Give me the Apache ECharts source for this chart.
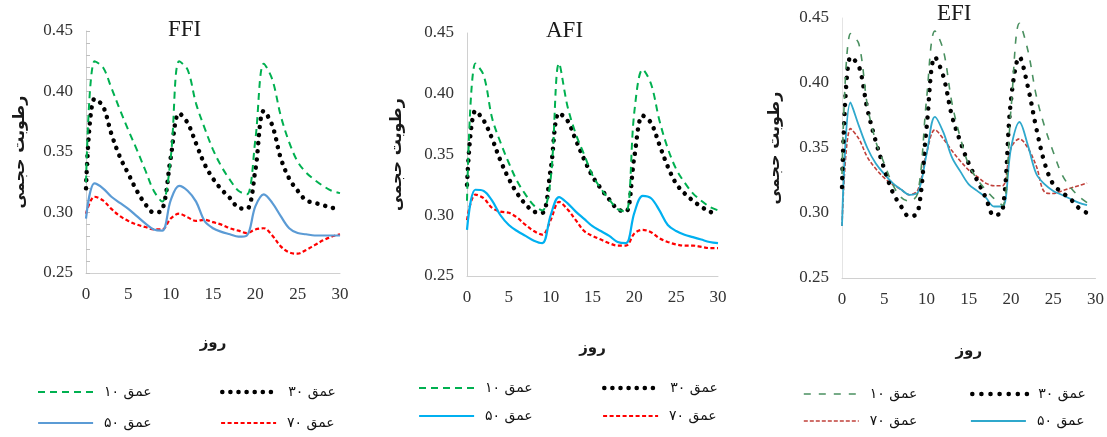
<!DOCTYPE html>
<html>
<head>
<meta charset="utf-8">
<script src="https://cdn.jsdelivr.net/npm/echarts@6/dist/echarts.min.js"></script>
<style>html,body{margin:0;padding:0;background:#fff}#c{width:1107px;height:437px}</style>
</head>
<body>
<div id="c"></div>
<script>
// ---- data ----
const days = [0,1,2,3,4,5,6,7,8,9,10,11,12,13,14,15,16,17,18,19,20,21,22,23,24,25,26,27,28,29,30];
const days3 = [0,1,2,3,4,5,6,7,8,9,10,11,12,13,14,15,16,17,18,19,20,21,22,23,24,25,26,27,28,29];
const panelTitles = ['FFI', 'AFI', 'EFI'];
const seriesNames = ['عمق ۱۰', 'عمق ۳۰', 'عمق ۵۰', 'عمق ۷۰'];
const yTicks = [0.25, 0.30, 0.35, 0.40, 0.45];
const xTicks = [0, 5, 10, 15, 20, 25, 30];
const xAxisName = 'روز';
const yAxisName = 'رطوبت حجمی';

const ffi10 = [0.325,0.425,0.420,0.403,0.385,0.368,0.352,0.335,0.318,0.309,0.345,0.425,0.418,0.390,0.370,0.352,0.338,0.327,0.318,0.315,0.360,0.423,0.410,0.380,0.358,0.342,0.333,0.327,0.322,0.318,0.316];
const ffi30 = [0.320,0.394,0.388,0.365,0.346,0.332,0.318,0.307,0.300,0.302,0.345,0.382,0.374,0.357,0.340,0.328,0.319,0.312,0.304,0.303,0.335,0.384,0.372,0.345,0.328,0.318,0.310,0.308,0.306,0.304,0.303];
const ffi50 = [0.295,0.324,0.320,0.313,0.308,0.303,0.297,0.291,0.286,0.285,0.310,0.322,0.318,0.309,0.293,0.287,0.284,0.282,0.280,0.281,0.305,0.315,0.308,0.297,0.287,0.283,0.282,0.281,0.281,0.281,0.281];
const ffi70 = [0.299,0.313,0.310,0.303,0.297,0.293,0.290,0.288,0.286,0.286,0.295,0.299,0.296,0.293,0.294,0.292,0.290,0.287,0.285,0.283,0.286,0.287,0.281,0.272,0.267,0.266,0.269,0.273,0.277,0.280,0.282];

const afi10 = [0.312,0.425,0.415,0.380,0.360,0.343,0.328,0.317,0.308,0.304,0.330,0.425,0.390,0.367,0.350,0.333,0.322,0.313,0.305,0.303,0.385,0.420,0.408,0.378,0.355,0.338,0.327,0.318,0.312,0.307,0.304];
const afi30 = [0.325,0.386,0.378,0.363,0.345,0.330,0.318,0.309,0.303,0.302,0.338,0.384,0.378,0.362,0.346,0.332,0.322,0.313,0.305,0.303,0.348,0.382,0.376,0.358,0.340,0.326,0.318,0.312,0.307,0.303,0.301];
const afi50 = [0.288,0.321,0.320,0.312,0.300,0.292,0.287,0.283,0.279,0.277,0.300,0.315,0.310,0.303,0.297,0.291,0.287,0.283,0.278,0.277,0.302,0.316,0.314,0.304,0.292,0.287,0.284,0.282,0.280,0.278,0.277];
const afi70 = [0.296,0.317,0.314,0.306,0.303,0.302,0.298,0.292,0.287,0.284,0.296,0.311,0.305,0.296,0.287,0.283,0.280,0.277,0.275,0.275,0.285,0.288,0.286,0.281,0.278,0.276,0.275,0.275,0.274,0.273,0.273];

const efi10 = [0.330,0.438,0.430,0.383,0.355,0.338,0.322,0.312,0.309,0.316,0.387,0.440,0.425,0.385,0.358,0.337,0.326,0.318,0.311,0.306,0.380,0.446,0.425,0.390,0.366,0.347,0.330,0.320,0.313,0.308];
const efi30 = [0.320,0.420,0.413,0.380,0.355,0.334,0.316,0.305,0.297,0.301,0.365,0.420,0.405,0.375,0.355,0.338,0.325,0.312,0.298,0.302,0.387,0.420,0.397,0.365,0.338,0.322,0.316,0.311,0.304,0.300];
const efi50 = [0.290,0.385,0.367,0.350,0.338,0.330,0.323,0.318,0.314,0.316,0.345,0.374,0.362,0.343,0.332,0.322,0.317,0.312,0.305,0.305,0.350,0.370,0.352,0.330,0.322,0.317,0.314,0.311,0.308,0.306];
const efi70 = [0.290,0.365,0.357,0.343,0.334,0.327,0.322,0.318,0.314,0.318,0.346,0.364,0.357,0.348,0.340,0.333,0.328,0.323,0.321,0.321,0.350,0.357,0.350,0.336,0.316,0.315,0.317,0.319,0.321,0.323];

// ---- layout / style ----
const grids = [
  {left: 86, top: 31, width: 254, height: 242},
  {left: 467, top: 33, width: 251, height: 243},
  {left: 842, top: 18, width: 255, height: 260}
];
const titlePos = [{x: 163, y: 13}, {x: 541, y: 14}, {x: 932, y: -3}];
const yNameGap = [58, 62, 59];
const xNameGap = [63, 65, 66];

const styles = [
  [
    {color: '#00b050', width: 2, type: [7, 5]},
    {color: '#000000', width: 4.5, type: [0.1, 8], cap: 'round'},
    {color: '#5b9bd5', width: 2.2, type: 'solid'},
    {color: '#ff0000', width: 2.2, type: [4, 2.5]}
  ],
  [
    {color: '#00b050', width: 2, type: [7, 5]},
    {color: '#000000', width: 4.5, type: [0.1, 8], cap: 'round'},
    {color: '#00b0f0', width: 2.2, type: 'solid'},
    {color: '#ff0000', width: 2.2, type: [4, 2.5]}
  ],
  [
    {color: '#4a9060', width: 1.6, type: [7, 8]},
    {color: '#000000', width: 4.5, type: [0.1, 9], cap: 'round'},
    {color: '#2fa8cc', width: 1.8, type: 'solid'},
    {color: '#c0403a', width: 1.6, type: [4, 2]}
  ]
];
const legendPos = [
  [{left: 32, top: 380}, {left: 215, top: 380}, {left: 32, top: 411}, {left: 215, top: 411}],
  [{left: 413, top: 376}, {left: 597, top: 376}, {left: 413, top: 404}, {left: 597, top: 404}],
  [{left: 798, top: 382}, {left: 965, top: 382}, {left: 965, top: 409}, {left: 798, top: 409}]
];

const panelData = [
  {x: days, ys: [ffi10, ffi30, ffi50, ffi70]},
  {x: days, ys: [afi10, afi30, afi50, afi70]},
  {x: days3, ys: [efi10, efi30, efi50, efi70]}
];

const serif = '"Liberation Serif", "Times New Roman", "DejaVu Serif", serif';
const arabicFont = '"DejaVu Sans", sans-serif';

const option = {
  backgroundColor: '#ffffff',
  animation: false,
  title: [], grid: [], xAxis: [], yAxis: [], series: [], legend: []
};

panelData.forEach((p, i) => {
  option.title.push({
    text: panelTitles[i], left: titlePos[i].x, top: titlePos[i].y,
    textStyle: {fontFamily: serif, fontSize: 23, fontWeight: 'normal', color: '#1a1a1a'}
  });
  option.grid.push(Object.assign({containLabel: false}, grids[i]));
  option.xAxis.push({
    type: 'value', gridIndex: i, min: xTicks[0], max: xTicks[xTicks.length - 1], interval: 5,
    name: xAxisName, nameLocation: 'middle', nameGap: xNameGap[i],
    nameTextStyle: {fontFamily: arabicFont, fontSize: 15, fontWeight: 'bold', color: '#1a1a1a'},
    axisLine: {show: true, lineStyle: {color: '#d0d0d0', width: 1}},
    axisTick: {show: false},
    splitLine: {show: false},
    axisLabel: {fontFamily: serif, fontSize: 17, color: '#333', margin: 13}
  });
  option.yAxis.push({
    type: 'value', gridIndex: i, min: yTicks[0], max: yTicks[yTicks.length - 1], interval: 0.05,
    name: yAxisName, nameLocation: 'middle', nameGap: yNameGap[i], nameRotate: 90,
    nameTextStyle: {fontFamily: arabicFont, fontSize: 16, fontWeight: 'bold', color: '#1a1a1a'},
    axisLine: {show: true, lineStyle: {color: i === 2 ? '#e4e4e4' : '#d0d0d0', width: 1}},
    axisTick: {show: i === 0, inside: true, length: 4, lineStyle: {color: '#bfbfbf'}},
    minorTick: {show: i === 0, splitNumber: 5, length: 4, lineStyle: {color: '#bfbfbf'}},
    splitLine: {show: false},
    axisLabel: {fontFamily: serif, fontSize: 17, color: '#333', margin: 13,
      formatter: v => v.toFixed(2)}
  });
  p.ys.forEach((ys, j) => {
    const st = styles[i][j];
    option.series.push({
      type: 'line', name: seriesNames[j], xAxisIndex: i, yAxisIndex: i,
      data: p.x.map((d, k) => [d, ys[k]]),
      smooth: 0.35, showSymbol: false, symbol: 'none',
      lineStyle: {color: st.color, width: st.width, type: st.type, cap: st.cap || 'butt'},
      itemStyle: {color: st.color},
      z: 4 - j
    });
    option.legend.push({
      show: true,
      left: legendPos[i][j].left, top: legendPos[i][j].top,
      itemWidth: 55, itemHeight: 14, selectedMode: false,
      textStyle: {fontFamily: arabicFont, fontSize: 14, color: '#111', padding: [0, 0, 0, 6]},
      data: [{
        name: seriesNames[j],
        itemStyle: {color: 'rgba(0,0,0,0)', borderColor: 'rgba(0,0,0,0)', borderWidth: 0, opacity: 0},
        lineStyle: {color: st.color, width: st.width, type: st.type, cap: st.cap || 'butt', opacity: 1}
      }]
    });
  });
});

const chart = echarts.init(document.getElementById('c'), null, {renderer: 'canvas'});
chart.setOption(option);
</script>
</body>
</html>
